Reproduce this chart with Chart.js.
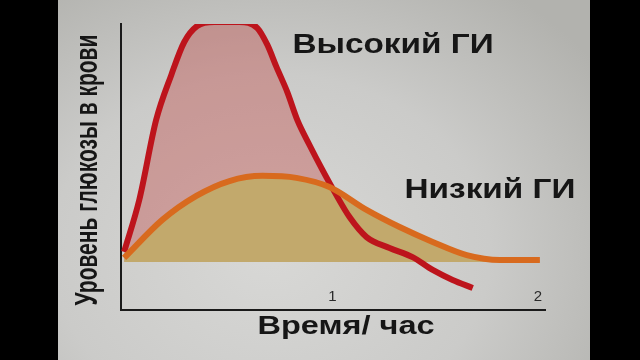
<!DOCTYPE html>
<html lang="ru">
<head>
<meta charset="UTF-8" />
<title>Высокий и низкий ГИ</title>
<script src="https://cdn.jsdelivr.net/npm/chart.js"></script>
<style>
  html, body { margin: 0; padding: 0; background: #000; }
  #frame {
    position: absolute; left: 58px; top: 0; width: 532px; height: 360px;
    background: radial-gradient(ellipse 75% 90% at 40% 70%, #d8d8d6 0%, #cbcbc9 55%, #b2b2ae 100%);
  }
</style>
</head>
<body>
<div id="frame"><canvas id="chartCanvas"></canvas></div>
<script>
  // время, часы / уровень глюкозы (условные единицы 0..100)
  const highTime = [-0.015, 0.059, 0.141, 0.215, 0.278, 0.341, 0.424, 0.546, 0.634, 0.683, 0.727, 0.78, 0.829, 0.888, 0.951, 1.01, 1.083, 1.166, 1.278, 1.39, 1.488, 1.585, 1.683];
  const highLevel = [20.3, 38.5, 66.4, 82.2, 93.7, 99.3, 100.7, 100.7, 98.6, 92.7, 85, 76.2, 66.4, 57.7, 49, 41.3, 32.5, 25.5, 21.7, 18.5, 14, 10.5, 7.7];
  const lowTime = [-0.015, 0.171, 0.337, 0.498, 0.659, 0.824, 0.985, 1.166, 1.327, 1.488, 1.654, 1.815, 2.01];
  const lowLevel = [18.2, 31.5, 39.9, 45.1, 46.9, 46.2, 43, 35, 29, 23.8, 19.2, 17.5, 17.5];
  const baseLevel = 16.8;
  const xTicks = [1, 2];

  const xTitle = "Время/ час";
  const yTitle = "Уровень глюкозы в крови";
  const labelText = ["Высокий ГИ", "Низкий ГИ"];
  const labelTime = [0.805, 1.351];
  const labelLevel = [92.7, 42];

  function pts(xs, ys) {
    return xs.map((x, i) => ({ x: x, y: ys[i] }));
  }

  // текст на картинке растянут по горизонтали, поэтому рисуем его сами
  function stretchedText(ctx, text, x, y, sx, sy, rot) {
    ctx.save();
    ctx.translate(x, y);
    if (rot) ctx.rotate(rot);
    ctx.scale(sx, sy);
    ctx.fillText(text, 0, 0);
    ctx.restore();
  }

  const textLayer = {
    id: "textLayer",
    afterDatasetsDraw(chart) {
      const { ctx, scales, chartArea } = chart;
      ctx.save();
      ctx.fillStyle = "#161616";
      ctx.textBaseline = "middle";

      ctx.font = "bold 28px 'Liberation Sans', Arial, sans-serif";
      ctx.textAlign = "left";
      labelText.forEach((t, i) => {
        stretchedText(ctx, t, scales.x.getPixelForValue(labelTime[i]), scales.y.getPixelForValue(labelLevel[i]), 1.19, 1);
      });

      ctx.textAlign = "center";
      ctx.font = "bold 25px 'Liberation Sans', Arial, sans-serif";
      stretchedText(ctx, xTitle, (chartArea.left + chartArea.right) / 2 + 13, chartArea.bottom + 17, 1.3, 1);

      ctx.font = "bold 21px 'Liberation Sans', Arial, sans-serif";
      stretchedText(ctx, yTitle, chartArea.left - 32, (chartArea.top + chartArea.bottom) / 2 + 3, 1, 1.45, -Math.PI / 2);

      ctx.font = "15px 'Liberation Sans', Arial, sans-serif";
      ctx.fillStyle = "#2a2a2a";
      scales.x.ticks.forEach((tk) => {
        ctx.fillText(String(tk.value), scales.x.getPixelForValue(tk.value), scales.x.top - 13);
      });
      ctx.restore();
    },
  };

  new Chart(document.getElementById("chartCanvas"), {
    type: "line",
    data: {
      datasets: [
        {
          label: "Низкий ГИ",
          data: pts(lowTime, lowLevel),
          borderColor: "#d86a1e",
          borderWidth: 6,
          pointRadius: 0,
          cubicInterpolationMode: "monotone",
          fill: { target: { value: baseLevel }, above: "#c2a96c", below: "rgba(0,0,0,0)" },
        },
        {
          label: "Высокий ГИ",
          data: pts(highTime, highLevel),
          borderColor: "#bd141c",
          borderWidth: 6,
          pointRadius: 0,
          cubicInterpolationMode: "monotone",
          fill: { target: { value: baseLevel }, above: "rgba(190,50,45,0.33)", below: "rgba(0,0,0,0)" },
        },
      ],
    },
    options: {
      responsive: true,
      maintainAspectRatio: false,
      animation: false,
      layout: { padding: { left: 63, top: 24, right: 45, bottom: 50 } },
      plugins: {
        legend: { display: false },
        tooltip: { enabled: false },
        filler: { drawTime: "beforeDatasetsDraw" },
      },
      scales: {
        x: {
          type: "linear",
          min: -0.03,
          max: 2.035,
          grid: { display: false, drawTicks: false },
          border: { display: true, color: "#1a1a1a", width: 2 },
          afterBuildTicks: (s) => { s.ticks = xTicks.map((v) => ({ value: v })); },
          ticks: { display: false },
        },
        y: {
          min: 0,
          max: 100,
          grid: { display: false, drawTicks: false },
          border: { display: true, color: "#1a1a1a", width: 2 },
          ticks: { display: false },
        },
      },
    },
    plugins: [textLayer],
  });
</script>
</body>
</html>
